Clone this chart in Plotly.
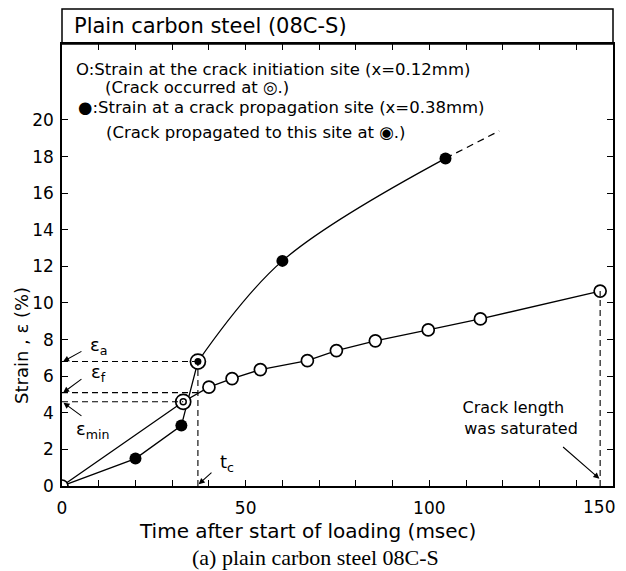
import plotly.graph_objects as go

# ---- data ----
init_t = [0, 40, 46.3, 54, 66.8, 74.7, 85.3, 99.7, 113.9, 146.5]
init_e = [0, 5.4, 5.87, 6.36, 6.85, 7.4, 7.93, 8.53, 9.13, 10.65]
crack_init_t = [33]        # crack occurred (double circle)
crack_init_e = [4.6]
prop_t = [0, 20, 32.5, 60, 104.4]
prop_e = [0, 1.5, 3.3, 12.3, 17.9]
crack_prop_t = [37]        # crack propagated (circle with dot)
crack_prop_e = [6.8]
prop_ext_t = [104.4, 119]
prop_ext_e = [17.9, 19.4]

eps_a = 6.8
eps_f = 5.1
eps_min = 4.6
t_c = 37
t_sat = 146.5

x_ticks = list(range(0, 151, 10))
x_ticklabels = [str(v) if v % 50 == 0 and v < 150 else "" for v in x_ticks]
x_last_label = "150"
y_ticks = list(range(0, 21, 2))
y_ticklabels = [str(v) for v in y_ticks]

FONT = "DejaVu Sans"
BLACK = "black"
PW, PH = 551, 442   # plot area size in px

fig = go.Figure()

# initiation-site line (merge crack-init point)
line_i = sorted(zip(init_t + crack_init_t, init_e + crack_init_e))
fig.add_trace(go.Scatter(x=[p[0] for p in line_i], y=[p[1] for p in line_i],
                         mode="lines", line=dict(color=BLACK, width=1.3),
                         hoverinfo="skip", showlegend=False))
# propagation-site line: early part straight, later part curved
early = sorted([(t, e) for t, e in zip(prop_t, prop_e) if t < crack_prop_t[0]] +
               list(zip(crack_prop_t, crack_prop_e)))
late = sorted(list(zip(crack_prop_t, crack_prop_e)) +
              [(t, e) for t, e in zip(prop_t, prop_e) if t > crack_prop_t[0]])
fig.add_trace(go.Scatter(x=[p[0] for p in early], y=[p[1] for p in early],
                         mode="lines", line=dict(color=BLACK, width=1.3),
                         hoverinfo="skip", showlegend=False))
fig.add_trace(go.Scatter(x=[p[0] for p in late], y=[p[1] for p in late],
                         mode="lines", line=dict(color=BLACK, width=1.3, shape="spline", smoothing=1.0),
                         hoverinfo="skip", showlegend=False))
fig.add_trace(go.Scatter(x=prop_ext_t, y=prop_ext_e, mode="lines",
                         line=dict(color=BLACK, width=1.3, dash="7px,5px"),
                         hoverinfo="skip", showlegend=False))

# markers
fig.add_trace(go.Scatter(x=init_t, y=init_e, mode="markers",
                         marker=dict(symbol="circle", size=12, color="white",
                                     line=dict(color=BLACK, width=1.7)),
                         showlegend=False))
fig.add_trace(go.Scatter(x=prop_t[1:], y=prop_e[1:], mode="markers",
                         marker=dict(symbol="circle", size=12, color=BLACK),
                         showlegend=False))
for tt, ee, inner in [(crack_init_t, crack_init_e, "open"), (crack_prop_t, crack_prop_e, "filled")]:
    fig.add_trace(go.Scatter(x=tt, y=ee, mode="markers",
                             marker=dict(symbol="circle", size=15, color="white",
                                         line=dict(color=BLACK, width=1.7)),
                             showlegend=False))
    if inner == "open":
        fig.add_trace(go.Scatter(x=tt, y=ee, mode="markers",
                                 marker=dict(symbol="circle", size=6, color="white",
                                             line=dict(color=BLACK, width=1.5)),
                                 showlegend=False))
    else:
        fig.add_trace(go.Scatter(x=tt, y=ee, mode="markers",
                                 marker=dict(symbol="circle", size=7, color=BLACK),
                                 showlegend=False))

# dashed guide lines
dash = dict(color=BLACK, width=1.1, dash="6px,4px")
shapes = [
    dict(type="line", x0=0, x1=t_c, y0=eps_a, y1=eps_a, xref="x", yref="y", line=dash),
    dict(type="line", x0=0, x1=t_c, y0=eps_f, y1=eps_f, xref="x", yref="y", line=dash),
    dict(type="line", x0=0, x1=crack_init_t[0], y0=eps_min, y1=eps_min, xref="x", yref="y", line=dash),
    dict(type="line", x0=t_c, x1=t_c, y0=0, y1=eps_a, xref="x", yref="y", line=dash),
    dict(type="line", x0=t_sat, x1=t_sat, y0=0, y1=init_e[-1], xref="x", yref="y", line=dash),
    # title box
    dict(type="rect", xref="paper", yref="paper", x0=0, x1=1, y0=1, y1=1 + 35 / PH,
         line=dict(color=BLACK, width=1.5)),
]
fig.update_layout(shapes=shapes)

ann = []
def arrow(x, y, ax, ay):
    ann.append(dict(x=x, y=y, ax=ax, ay=ay, xref="x", yref="y", axref="x", ayref="y",
                    text="", showarrow=True, arrowhead=2, arrowsize=1.1, arrowwidth=1.1,
                    arrowcolor=BLACK))
def label(x, y, text, size=15, xanchor="center", align="center", fam=FONT):
    ann.append(dict(x=x, y=y, xref="x", yref="y", text=text, showarrow=False,
                    xanchor=xanchor, align=align, font=dict(family=fam, size=size, color=BLACK)))

arrow(0.3, eps_a, 5.7, 7.4); label(10.0, 7.65, "ε<sub>a</sub>", 18)
arrow(0.3, eps_f, 5.7, 5.9); label(10.0, 6.15, "ε<sub>f</sub>", 18)
arrow(0.4, eps_min - 0.05, 5.7, 3.77); label(8.3, 3.05, "ε<sub>min</sub>", 18)
arrow(t_c + 0.2, 0.1, 41.1, 0.8); label(45, 1.25, "t<sub>c</sub>", 18)
arrow(t_sat - 0.2, 0.4, 136, 2.2)
label(123, 3.7, "Crack length<br>   was saturated", 16)

label(3.4, 22.75, "O:Strain at the crack initiation site (x=0.12mm)", 16.5, "left", "left")
label(11.2, 21.75, "(Crack occurred at ◎.)", 16.5, "left", "left")
label(3.8, 20.7, "●:Strain at a crack propagation site (x=0.38mm)", 16.5, "left", "left")
label(11.5, 19.3, "(Crack propagated to this site at ◉.)", 16.5, "left", "left")

# last x tick label (kept inside the page like the reference)
ann.append(dict(x=150, y=0, xref="x", yref="y", text=x_last_label, showarrow=False,
                xanchor="right", yanchor="top", xshift=4, yshift=-9,
                font=dict(family=FONT, size=17, color=BLACK)))
# title in box
ann.append(dict(x=10 / PW, y=1 + 17.5 / PH, xref="paper", yref="paper", text="Plain carbon steel (08C-S)",
                showarrow=False, xanchor="left", yanchor="middle",
                font=dict(family=FONT, size=21, color=BLACK)))
# y title
ann.append(dict(x=-41 / PW, y=(486 - 346) / PH, xref="paper", yref="paper", text="Strain , ε (%)",
                showarrow=False, textangle=-90, xanchor="center", yanchor="middle",
                font=dict(family=FONT, size=18, color=BLACK)))
# x title and caption
ann.append(dict(x=(307 - 62) / PW, y=-(531 - 486) / PH, xref="paper", yref="paper",
                text="Time after start of loading (msec)", showarrow=False, yanchor="middle",
                font=dict(family=FONT, size=20, color=BLACK)))
ann.append(dict(x=(315 - 62) / PW, y=-(557 - 486) / PH, xref="paper", yref="paper",
                text="(a) plain carbon steel 08C-S", showarrow=False, yanchor="middle",
                font=dict(family="Liberation Serif", size=22, color=BLACK)))
fig.update_layout(annotations=ann)

fig.update_xaxes(range=[0, 150], tickvals=x_ticks, ticktext=x_ticklabels, ticks="inside",
                 ticklen=6, tickwidth=1.2, tickcolor=BLACK, showline=True, linecolor=BLACK,
                 linewidth=1.5, mirror="allticks", showgrid=False, zeroline=False, automargin=False,
                 tickfont=dict(family=FONT, size=17, color=BLACK), ticklabelstandoff=6)
fig.update_yaxes(range=[0, 24.15], tickvals=y_ticks, ticktext=y_ticklabels, ticks="inside",
                 ticklen=6, tickwidth=1.2, tickcolor=BLACK, showline=True, linecolor=BLACK,
                 linewidth=1.5, mirror="allticks", showgrid=False, zeroline=False, automargin=False,
                 tickfont=dict(family=FONT, size=17, color=BLACK), ticklabelstandoff=3)

fig.update_layout(width=626, height=571, margin=dict(l=62, r=13, t=44, b=85, autoexpand=False),
                  paper_bgcolor="white", plot_bgcolor="white", showlegend=False)

fig.write_html("out.html", config={"displayModeBar": False},
               post_script="document.body.style.margin='0px';document.body.style.padding='0px';")
